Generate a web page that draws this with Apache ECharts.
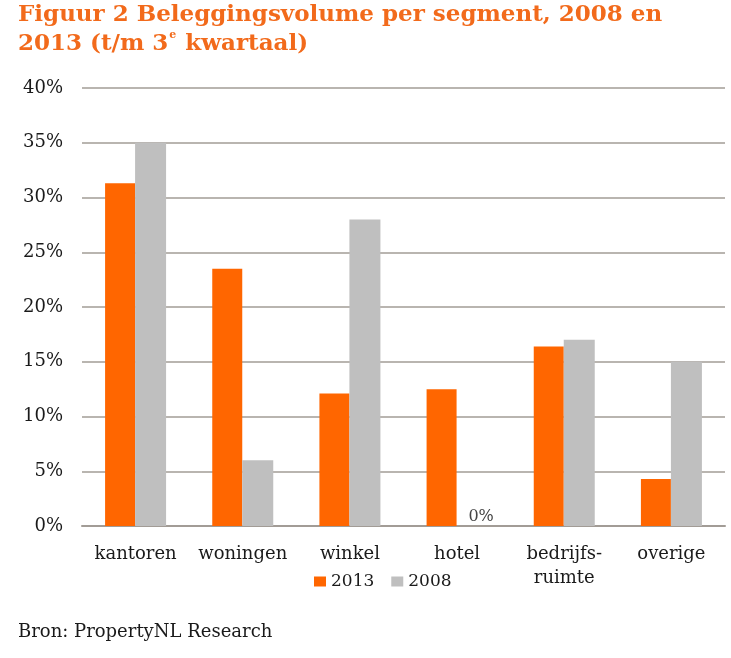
<!DOCTYPE html>
<html><head><meta charset="utf-8">
<script src="https://cdn.jsdelivr.net/npm/echarts@6/dist/echarts.min.js"></script>
<style>html,body{margin:0;padding:0;background:#fff}#c{width:731px;height:658px}</style>
</head><body><div id="c"></div>
<script>
const categories = ['kantoren', 'woningen', 'winkel', 'hotel', 'bedrijfs-\nruimte', 'overige'];
const values2013 = [31.3, 23.5, 12.1, 12.5, 16.4, 4.3];
const values2008 = [35.0, 6.0, 28.0, 0, 17.0, 15.0];
const yTicks = [0, 5, 10, 15, 20, 25, 30, 35, 40];

const labelFont = 'DejaVu Serif';
const textColor = '#1a1a1a';
const chart = echarts.init(document.getElementById('c'));
chart.setOption({
  animation: false,
  backgroundColor: '#fff',
  title: [{
    text: '{t|Figuur 2 Beleggingsvolume per segment, 2008 en}\n{t|2013 (t/m 3}{s|e}{t| kwartaal)}',
    left: 18, top: 1, padding: 0,
    textStyle: {
      rich: {
        t: { fontFamily: 'DejaVu Serif', fontWeight: 'bold', fontSize: 23, color: '#F26A1B', lineHeight: 29 },
        s: { fontFamily: 'DejaVu Serif', fontWeight: 'bold', fontSize: 11, color: '#F26A1B', lineHeight: 29, verticalAlign: 'top', padding: [0, 1, 8, 1] }
      }
    }
  }, {
    text: 'Bron: PropertyNL Research',
    left: 18, top: 623, padding: 0,
    textStyle: { fontFamily: labelFont, fontWeight: 'normal', fontSize: 18, color: textColor }
  }],
  legend: {
    data: ['2013', '2008'],
    left: 314, top: 573, padding: 0,
    itemWidth: 12, itemHeight: 10, itemGap: 17,
    icon: 'rect',
    textStyle: { fontFamily: labelFont, fontSize: 17, color: textColor }
  },
  grid: { left: 82, right: 6, top: 88, bottom: 132, containLabel: false },
  xAxis: {
    type: 'category', data: categories,
    axisLine: { lineStyle: { color: '#A29C96', width: 2 } },
    axisTick: { show: false },
    axisLabel: { fontFamily: labelFont, fontSize: 18, color: textColor, margin: 16, lineHeight: 24, interval: 0 }
  },
  yAxis: {
    type: 'value', min: 0, max: 40, interval: 5,
    axisLine: { show: false }, axisTick: { show: false },
    splitLine: { lineStyle: { color: '#A29C96', width: 1.5 } },
    axisLabel: { fontFamily: labelFont, fontSize: 18, color: textColor, margin: 19, formatter: v => yTicks.includes(v) ? v + '%' : '' }
  },
  series: [{
    name: '2013', type: 'bar', data: values2013, barWidth: 30, barGap: '0%',
    itemStyle: { color: '#FF6600' }
  }, {
    name: '2008', type: 'bar', data: values2008, barWidth: 31,
    itemStyle: { color: '#BFBFBF' },
    label: {
      show: true, position: 'top', distance: 1, offset: [9, 0],
      fontFamily: labelFont, fontSize: 16, color: '#444',
      formatter: p => p.value === 0 ? '0%' : ''
    }
  }]
});
</script></body></html>
